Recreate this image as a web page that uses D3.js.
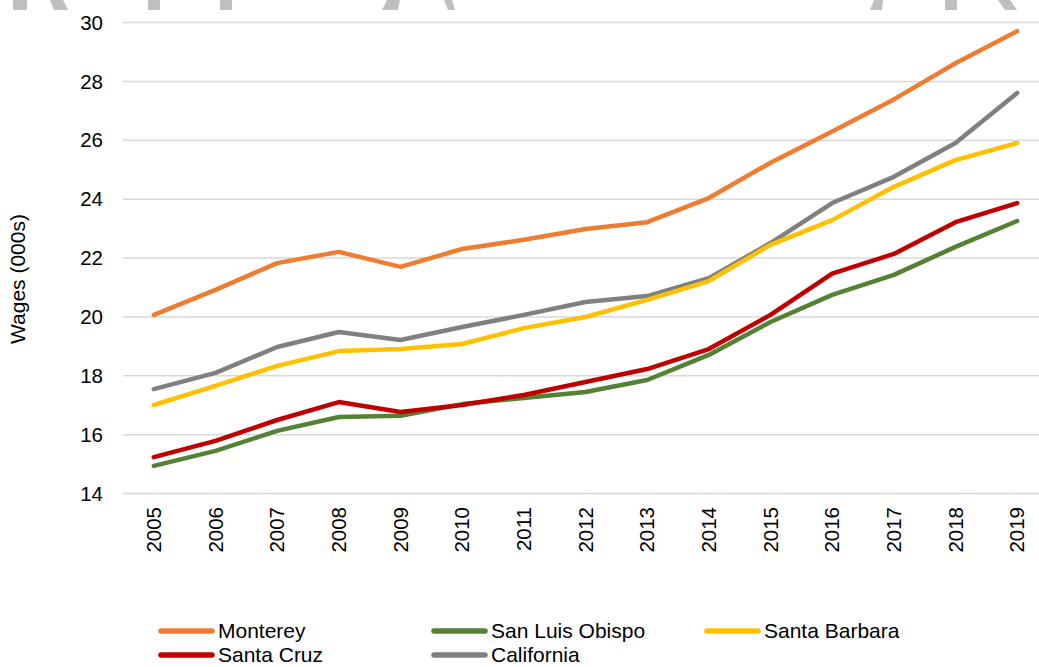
<!DOCTYPE html>
<html>
<head>
<meta charset="utf-8">
<script src="https://cdn.jsdelivr.net/npm/d3@7"></script>
<style>
  body { margin: 0; background: #fff; }
  svg { display: block; font-family: 'Liberation Sans', Arial, sans-serif; }
  .grid line { stroke: #d9d9d9; stroke-width: 1.5; }
  .grid .domain { display: none; }
  .axis text { fill: #000; font-size: 20.5px; font-family: 'Liberation Sans', Arial, sans-serif; }
  .axis .domain, .axis line { display: none; }
</style>
</head>
<body>
<svg id="chart"></svg>
<script>
const years = ['2005', '2006', '2007', '2008', '2009', '2010', '2011', '2012',
  '2013', '2014', '2015', '2016', '2017', '2018', '2019'];
const yTicks = [14, 16, 18, 20, 22, 24, 26, 28, 30];

const monterey = [20.05, 20.9, 21.81, 22.19, 21.68, 22.29, 22.6, 22.97, 23.2, 24.02, 25.22, 26.28, 27.37, 28.6, 29.69];
const sanLuisObispo = [14.92, 15.43, 16.11, 16.58, 16.62, 17.02, 17.23, 17.43, 17.84, 18.69, 19.81, 20.73, 21.41, 22.36, 23.24];
const santaBarbara = [16.99, 17.64, 18.32, 18.82, 18.89, 19.06, 19.6, 19.98, 20.56, 21.2, 22.43, 23.27, 24.4, 25.31, 25.89];
const santaCruz = [15.22, 15.77, 16.48, 17.09, 16.75, 16.99, 17.33, 17.77, 18.21, 18.89, 20.05, 21.45, 22.12, 23.2, 23.85];
const california = [17.53, 18.08, 18.96, 19.47, 19.2, 19.64, 20.05, 20.49, 20.69, 21.3, 22.49, 23.85, 24.74, 25.89, 27.59];

const series = [
  { name: 'Monterey', color: '#ed7d31', values: monterey },
  { name: 'San Luis Obispo', color: '#548235', values: sanLuisObispo },
  { name: 'Santa Barbara', color: '#ffc000', values: santaBarbara },
  { name: 'Santa Cruz', color: '#c00000', values: santaCruz },
  { name: 'California', color: '#808080', values: california },
];

// draw order in the picture: california behind, then the counties
const drawOrder = ['California', 'Santa Barbara', 'San Luis Obispo', 'Santa Cruz', 'Monterey'];

const width = 1039;
const height = 667;
const margin = { top: 22, left: 123, bottom: 174 };
const plotRight = 1048;

const svg = d3.select('#chart')
  .attr('width', width)
  .attr('height', height);

// clipped remains of a big grey heading above the chart
const heading = [
  [[13, 0], [27, 0], [27, 10], [13, 10]],
  [[50, 0], [63, 0], [68, 10], [54, 10]],
  [[148, 0], [160, 0], [160, 10], [148, 10]],
  [[220, 0], [232, 0], [232, 10], [220, 10]],
  [[387, 0], [400, 0], [398, 10], [382, 10]],
  [[444, 0], [452, 0], [455, 10], [448, 10]],
  [[874, 0], [883, 0], [882, 10], [870, 10]],
  [[945, 0], [957, 0], [957, 10], [945, 10]],
  [[998, 0], [1010, 0], [1017, 10], [1005, 10]],
];
svg.append('g')
  .selectAll('polygon')
  .data(heading)
  .join('polygon')
  .attr('points', (d) => d.join(' '))
  .attr('fill', '#bfbfbf');

const x = d3.scaleBand()
  .domain(years)
  .range([margin.left, plotRight]);

const y = d3.scaleLinear()
  .domain([14, 30])
  .range([height - margin.bottom, margin.top]);

// Grid
svg.append('g')
  .attr('class', 'grid')
  .attr('transform', `translate(${margin.left},0)`)
  .call(d3.axisLeft(y).tickValues(yTicks).tickSize(-(plotRight - margin.left)).tickFormat(''));

// Axes
svg.append('g')
  .attr('class', 'axis')
  .attr('transform', `translate(${margin.left - 20},0)`)
  .call(d3.axisLeft(y).tickValues(yTicks).tickSize(0).tickPadding(0))
  .selectAll('text')
  .attr('dy', '0.35em');

svg.append('g')
  .attr('class', 'axis')
  .attr('transform', `translate(0,${height - margin.bottom + 14})`)
  .call(d3.axisBottom(x).tickSize(0).tickPadding(0))
  .selectAll('text')
  .attr('transform', 'rotate(-90)')
  .attr('text-anchor', 'end')
  .attr('x', 0)
  .attr('y', 0)
  .attr('dy', '0.35em');

svg.append('text')
  .attr('transform', 'rotate(-90)')
  .attr('x', -279)
  .attr('y', 25)
  .attr('text-anchor', 'middle')
  .style('font-size', '21px')
  .text('Wages (000s)');

// Lines
const line = d3.line()
  .x((d, i) => x(years[i]) + x.bandwidth() / 2)
  .y((d) => y(d));

svg.append('g')
  .selectAll('path')
  .data(drawOrder.map((n) => series.find((s) => s.name === n)))
  .join('path')
  .attr('d', (d) => line(d.values))
  .attr('fill', 'none')
  .attr('stroke', (d) => d.color)
  .attr('stroke-width', 4.5)
  .attr('stroke-linejoin', 'round')
  .attr('stroke-linecap', 'round');

// Legend
const legend = svg.append('g')
  .selectAll('g')
  .data(series)
  .join('g')
  .attr('transform', (d, i) => `translate(${161 + (i % 3) * 273},${631 + Math.floor(i / 3) * 24})`);

legend.append('line')
  .attr('x1', 0)
  .attr('x2', 51)
  .attr('stroke', (d) => d.color)
  .attr('stroke-width', 5.5)
  .attr('stroke-linecap', 'round');

legend.append('text')
  .attr('x', 57)
  .attr('dy', '0.35em')
  .style('font-size', '21px')
  .text((d) => d.name);
</script>
</body>
</html>
